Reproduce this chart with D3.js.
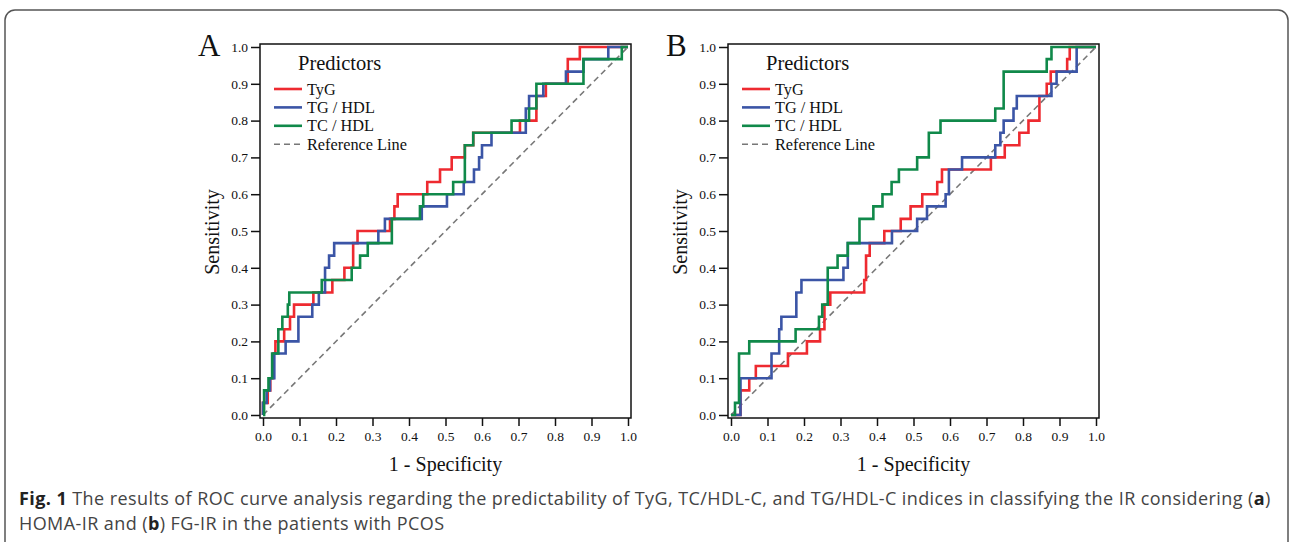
<!DOCTYPE html>
<html>
<head>
<meta charset="utf-8">
<script src="https://cdnjs.cloudflare.com/ajax/libs/d3/7.8.5/d3.min.js"></script>
<style>
body { margin: 0; background: #fff; }
svg { display: block; }
</style>
</head>
<body>
<svg id="fig" width="1292" height="542"></svg>
<script>
var predictors = ['TyG', 'TG / HDL', 'TC / HDL'];
var refLabel = 'Reference Line';
var tickValues = [0, 0.1, 0.2, 0.3, 0.4, 0.5, 0.6, 0.7, 0.8, 0.9, 1.0];

// ROC points [1 - specificity, sensitivity], panel A (HOMA-IR)
var tygA = [[0,0],[0,0.033],[0.013,0.033],[0.013,0.067],[0.02,0.067],[0.02,0.1],[0.028,0.1],[0.028,0.167],
    [0.034,0.167],[0.034,0.2],[0.058,0.2],[0.058,0.233],[0.074,0.233],[0.074,0.267],[0.085,0.267],[0.085,0.3],
    [0.138,0.3],[0.138,0.333],[0.19,0.333],[0.19,0.367],[0.223,0.367],[0.223,0.4],[0.247,0.4],[0.247,0.467],
    [0.259,0.467],[0.259,0.5],[0.348,0.5],[0.348,0.533],[0.36,0.533],[0.36,0.567],[0.369,0.567],[0.369,0.6],
    [0.45,0.6],[0.45,0.633],[0.485,0.633],[0.485,0.667],[0.517,0.667],[0.517,0.7],[0.553,0.7],[0.553,0.733],
    [0.576,0.733],[0.576,0.767],[0.704,0.767],[0.704,0.8],[0.749,0.8],[0.749,0.867],[0.775,0.867],[0.775,0.9],
    [0.835,0.9],[0.835,0.967],[0.868,0.967],[0.868,1],[1,1]];
var tgHdlA = [[0,0],[0,0.033],[0.01,0.033],[0.01,0.067],[0.019,0.067],[0.019,0.1],[0.031,0.1],[0.031,0.167],
    [0.062,0.167],[0.062,0.2],[0.097,0.2],[0.097,0.267],[0.135,0.267],[0.135,0.3],[0.153,0.3],[0.153,0.333],
    [0.17,0.333],[0.17,0.4],[0.181,0.4],[0.181,0.433],[0.195,0.433],[0.195,0.467],[0.316,0.467],[0.316,0.5],
    [0.334,0.5],[0.334,0.533],[0.435,0.533],[0.435,0.567],[0.504,0.567],[0.504,0.6],[0.55,0.6],[0.55,0.633],
    [0.578,0.633],[0.578,0.667],[0.592,0.667],[0.592,0.7],[0.6,0.7],[0.6,0.733],[0.626,0.733],[0.626,0.767],
    [0.72,0.767],[0.72,0.833],[0.729,0.833],[0.729,0.867],[0.768,0.867],[0.768,0.9],[0.83,0.9],[0.83,0.933],
    [0.878,0.933],[0.878,0.967],[0.946,0.967],[0.946,1],[1,1]];
var tcHdlA = [[0,0],[0.003,0],[0.003,0.067],[0.015,0.067],[0.015,0.1],[0.025,0.1],[0.025,0.167],[0.042,0.167],
    [0.042,0.233],[0.053,0.233],[0.053,0.267],[0.068,0.267],[0.068,0.3],[0.072,0.3],[0.072,0.333],[0.161,0.333],
    [0.161,0.367],[0.243,0.367],[0.243,0.4],[0.266,0.4],[0.266,0.433],[0.287,0.433],[0.287,0.467],[0.353,0.467],
    [0.353,0.533],[0.43,0.533],[0.43,0.567],[0.439,0.567],[0.439,0.6],[0.521,0.6],[0.521,0.633],[0.553,0.633],
    [0.553,0.733],[0.576,0.733],[0.576,0.767],[0.681,0.767],[0.681,0.8],[0.729,0.8],[0.729,0.833],[0.749,0.833],
    [0.749,0.9],[0.878,0.9],[0.878,0.967],[0.983,0.967],[0.983,1],[1,1]];

// panel B (FG-IR)
var tygB = [[0,0],[0.026,0],[0.026,0.067],[0.05,0.067],[0.05,0.1],[0.068,0.1],[0.068,0.133],[0.156,0.133],
    [0.156,0.167],[0.208,0.167],[0.208,0.2],[0.244,0.2],[0.244,0.233],[0.256,0.233],[0.256,0.3],[0.272,0.3],
    [0.272,0.333],[0.365,0.333],[0.365,0.367],[0.37,0.367],[0.37,0.433],[0.38,0.433],[0.38,0.467],[0.42,0.467],
    [0.42,0.5],[0.465,0.5],[0.465,0.533],[0.492,0.533],[0.492,0.567],[0.524,0.567],[0.524,0.6],[0.565,0.6],
    [0.565,0.633],[0.578,0.633],[0.578,0.667],[0.712,0.667],[0.712,0.7],[0.75,0.7],[0.75,0.733],[0.79,0.733],
    [0.79,0.767],[0.815,0.767],[0.815,0.8],[0.845,0.8],[0.845,0.867],[0.865,0.867],[0.865,0.9],[0.876,0.9],
    [0.876,0.933],[0.921,0.933],[0.921,0.967],[0.928,0.967],[0.928,1],[1,1]];
var tgHdlB = [[0,0],[0.026,0],[0.026,0.1],[0.111,0.1],[0.111,0.167],[0.132,0.167],[0.132,0.233],[0.138,0.233],
    [0.138,0.267],[0.179,0.267],[0.179,0.333],[0.193,0.333],[0.193,0.367],[0.308,0.367],[0.308,0.4],[0.32,0.4],
    [0.32,0.467],[0.441,0.467],[0.441,0.5],[0.51,0.5],[0.51,0.533],[0.537,0.533],[0.537,0.567],[0.588,0.567],
    [0.588,0.6],[0.597,0.6],[0.597,0.667],[0.633,0.667],[0.633,0.7],[0.724,0.7],[0.724,0.733],[0.738,0.733],
    [0.738,0.767],[0.747,0.767],[0.747,0.8],[0.774,0.8],[0.774,0.833],[0.783,0.833],[0.783,0.867],[0.878,0.867],
    [0.878,0.9],[0.892,0.9],[0.892,0.933],[0.947,0.933],[0.947,1],[1,1]];
var tcHdlB = [[0,0],[0.011,0],[0.011,0.033],[0.022,0.033],[0.022,0.167],[0.05,0.167],[0.05,0.2],[0.177,0.2],
    [0.177,0.233],[0.241,0.233],[0.241,0.267],[0.25,0.267],[0.25,0.3],[0.265,0.3],[0.265,0.4],[0.292,0.4],
    [0.292,0.433],[0.32,0.433],[0.32,0.467],[0.352,0.467],[0.352,0.533],[0.39,0.533],[0.39,0.567],[0.415,0.567],
    [0.415,0.6],[0.44,0.6],[0.44,0.633],[0.46,0.633],[0.46,0.667],[0.51,0.667],[0.51,0.7],[0.542,0.7],
    [0.542,0.767],[0.574,0.767],[0.574,0.8],[0.724,0.8],[0.724,0.833],[0.747,0.833],[0.747,0.933],[0.865,0.933],
    [0.865,0.967],[0.878,0.967],[0.878,1],[1,1]];

var colors = ['#ee2a30', '#3b55a6', '#10894a'];
var serif = '"Liberation Serif", "Times New Roman", serif';

var svg = d3.select('#fig');

// outer figure box
svg.append('rect')
    .attr('x', 5).attr('y', 10)
    .attr('width', 1283).attr('height', 560)
    .attr('rx', 10)
    .attr('fill', 'none')
    .attr('stroke', '#555')
    .attr('stroke-width', 1.5);

var drawPanel = function(left, letter, curves) {
    var top = 44, w = 371, h = 374, pad = 3;
    var g = svg.append('g').attr('transform', 'translate(' + left + ',' + top + ')');

    var x = d3.scaleLinear().domain([0, 1]).range([pad, w - pad]);
    var y = d3.scaleLinear().domain([0, 1]).range([h - pad, pad]);

    var line = d3.line()
        .x(function(d){ return x(d[0]); })
        .y(function(d){ return y(d[1]); });

    g.append('rect')
        .attr('width', w).attr('height', h)
        .attr('fill', '#fff')
        .attr('stroke', '#111')
        .attr('stroke-width', 1.5);

    g.append('line')
        .attr('x1', x(0)).attr('y1', y(0))
        .attr('x2', x(1)).attr('y2', y(1))
        .attr('stroke', '#777')
        .attr('stroke-width', 1.6)
        .attr('stroke-dasharray', '6,4');

    g.selectAll('path.roc')
        .data(curves)
        .enter()
        .append('path')
        .attr('class', 'roc')
        .attr('d', function(d){ return line(d); })
        .attr('fill', 'none')
        .attr('stroke', function(d, i){ return colors[i]; })
        .attr('stroke-width', 2.6);

    var yAxis = g.append('g')
        .call(d3.axisLeft(y).tickValues(tickValues).tickFormat(d3.format('.1f')).tickSize(9).tickPadding(3));
    var xAxis = g.append('g')
        .attr('transform', 'translate(0,' + h + ')')
        .call(d3.axisBottom(x).tickValues(tickValues).tickFormat(d3.format('.1f')).tickSize(8).tickPadding(5));

    [yAxis, xAxis].forEach(function(a){
        a.select('.domain').remove();
        a.selectAll('line').attr('stroke', '#111').attr('stroke-width', 1.5);
        a.selectAll('text')
            .attr('fill', '#111')
            .style('font-family', serif)
            .style('font-size', '13.5px');
    });

    g.append('text')
        .attr('transform', 'translate(-41,' + (h / 2 + 1) + ') rotate(-90)')
        .attr('text-anchor', 'middle')
        .style('font-family', serif)
        .style('font-size', '20px')
        .attr('fill', '#111')
        .text('Sensitivity');

    g.append('text')
        .attr('x', w / 2).attr('y', h + 53)
        .attr('text-anchor', 'middle')
        .style('font-family', serif)
        .style('font-size', '20px')
        .attr('fill', '#111')
        .text('1 - Specificity');

    g.append('text')
        .attr('x', -62).attr('y', 12)
        .style('font-family', serif)
        .style('font-size', '31px')
        .attr('fill', '#111')
        .text(letter);

    // legend
    var lg = g.append('g').attr('transform', 'translate(14,0)');
    lg.append('text')
        .attr('x', 24).attr('y', 26)
        .style('font-family', serif)
        .style('font-size', '20.5px')
        .attr('fill', '#111')
        .text('Predictors');

    var rows = predictors.concat([refLabel]);
    var item = lg.selectAll('g.item')
        .data(rows)
        .enter()
        .append('g')
        .attr('class', 'item')
        .attr('transform', function(d, i){ return 'translate(0,' + (45 + i * 18.4) + ')'; });

    item.append('line')
        .attr('x1', 0).attr('x2', 28)
        .attr('stroke', function(d, i){ return i < 3 ? colors[i] : '#777'; })
        .attr('stroke-width', function(d, i){ return i < 3 ? 2.6 : 1.6; })
        .attr('stroke-dasharray', function(d, i){ return i < 3 ? null : '6,4'; });

    item.append('text')
        .attr('x', 33).attr('y', 5.5)
        .style('font-family', serif)
        .style('font-size', '16.3px')
        .attr('fill', '#111')
        .text(function(d){ return d; });
};

drawPanel(260, 'A', [tygA, tgHdlA, tcHdlA]);
drawPanel(728, 'B', [tygB, tgHdlB, tcHdlB]);

// caption
var sans = '"Open Sans", "Noto Sans", sans-serif';
var cap1 = svg.append('text').attr('x', 19).attr('y', 505)
    .style('font-family', sans).style('font-size', '18px').style('letter-spacing', '0.42px').attr('fill', '#444');
cap1.append('tspan').style('font-weight', 'bold').attr('fill', '#222').text('Fig. 1');
cap1.append('tspan').text(' The results of ROC curve analysis regarding the predictability of TyG, TC/HDL-C, and TG/HDL-C indices in classifying the IR considering (');
cap1.append('tspan').style('font-weight', 'bold').attr('fill', '#222').text('a');
cap1.append('tspan').text(')');

var cap2 = svg.append('text').attr('x', 19).attr('y', 530)
    .style('font-family', sans).style('font-size', '18px').style('letter-spacing', '0.42px').attr('fill', '#444');
cap2.append('tspan').text('HOMA-IR and (');
cap2.append('tspan').style('font-weight', 'bold').attr('fill', '#222').text('b');
cap2.append('tspan').text(') FG-IR in the patients with PCOS');
</script>
</body>
</html>
